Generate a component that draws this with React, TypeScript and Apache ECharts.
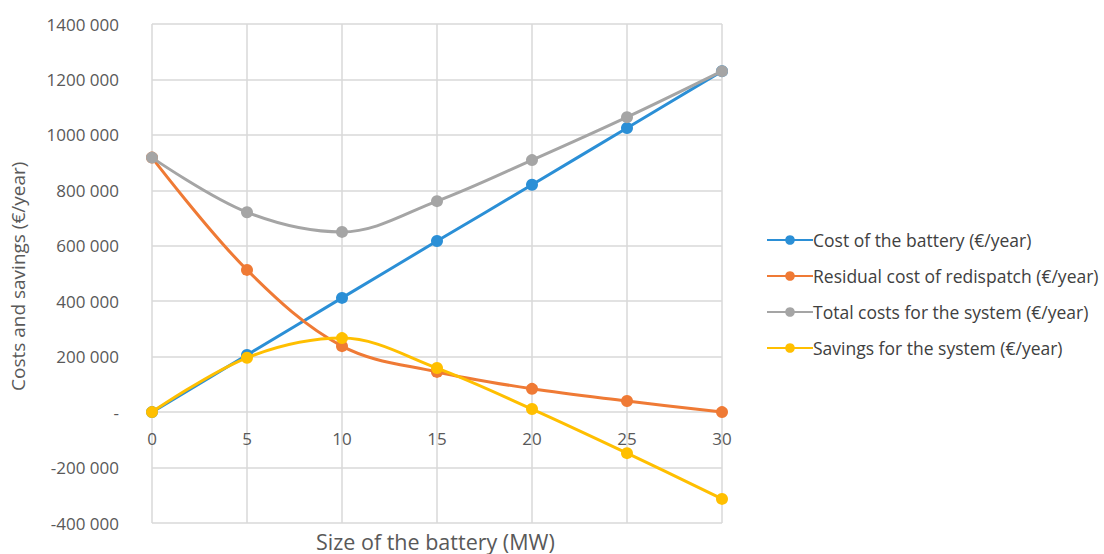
import React, { useEffect, useRef } from "react";
import * as echarts from "echarts";

const sizes = [0, 5, 10, 15, 20, 25, 30];
const batteryCost = [0, 206000, 412000, 617000, 820000, 1025000, 1230000];
const residualCost = [918000, 513000, 238000, 145000, 84000, 40000, 0];
const totalCost = [918000, 721000, 650000, 761000, 909000, 1064000, 1230000];
const savings = [0, 196000, 267000, 159000, 11000, -148000, -313000];

const seriesNames = [
  "Cost of the battery (€/year)",
  "Residual cost of redispatch (€/year)",
  "Total costs for the system (€/year)",
  "Savings for the system (€/year)",
];
const colors = ["#2b8fd6", "#ef7a35", "#a5a5a5", "#ffbf00"];
const xTitle = "Size of the battery (MW)";
const yTitle = "Costs and savings (€/year)";
const yMin = -400000;
const yMax = 1400000;

const fmt = (v: number) => {
  if (v === 0) return "-";
  const a = Math.abs(v);
  const th = Math.floor(a / 1000);
  return (v < 0 ? "-" : "") + th + " 000";
};

const FONT = "Open Sans";

export default function App() {
  const ref = useRef<HTMLDivElement>(null);
  useEffect(() => {
    const chart = echarts.init(ref.current!, null, { renderer: "svg" });
    const datasets = [batteryCost, residualCost, totalCost, savings];
    chart.setOption({
      animation: false,
      textStyle: { fontFamily: FONT },
      grid: { left: 152, right: 382, top: 24, bottom: 31, containLabel: false },
      xAxis: {
        type: "value",
        min: 0,
        max: 30,
        interval: 5,
        axisLine: { show: false },
        axisTick: { show: false },
        axisLabel: { fontSize: 17, color: "#595959", margin: 17, fontFamily: FONT },
        splitLine: { show: true, lineStyle: { color: "#d9d9d9", width: 1.5 } },
      },
      yAxis: {
        type: "value",
        min: yMin,
        max: yMax,
        interval: 200000,
        axisLine: { show: false },
        axisTick: { show: false },
        axisLabel: { fontSize: 17, color: "#595959", margin: 33, formatter: fmt, fontFamily: FONT },
        splitLine: { show: true, lineStyle: { color: "#d9d9d9", width: 1.5 } },
      },
      legend: {
        orient: "vertical",
        left: 761,
        top: 226,
        itemWidth: 46,
        itemHeight: 12,
        itemGap: 18,
        textStyle: { fontSize: 17.5, color: "#404040", fontFamily: FONT, padding: [0, 0, 0, -5] },
        data: seriesNames,
      },
      graphic: [
        {
          type: "text",
          left: 316,
          top: 530,
          style: { text: xTitle, fontSize: 21.5, fill: "#595959", fontFamily: FONT },
        },
        {
          type: "text",
          x: 8,
          y: 391,
          rotation: Math.PI / 2,
          style: { text: yTitle, fontSize: 19, fill: "#595959", fontFamily: FONT },
        },
      ],
      series: datasets.map((d, i) => ({
        name: seriesNames[i],
        type: "line",
        smooth: 0.35,
        symbol: "circle",
        symbolSize: 12,
        data: sizes.map((x, j) => [x, d[j]]),
        lineStyle: { color: colors[i], width: 3 },
        itemStyle: { color: colors[i] },
        z: 2 + i,
      })),
    });
    // Place the x axis (its labels) on the zero line of the y axis
    const zeroY = chart.convertToPixel({ yAxisIndex: 0 }, 0) as number;
    const bottomY = chart.convertToPixel({ yAxisIndex: 0 }, yMin) as number;
    chart.setOption({ xAxis: { offset: zeroY - bottomY } });
    return () => chart.dispose();
  }, []);
  return (
    <div
      ref={ref}
      style={{ position: "fixed", left: 0, top: 0, width: 1104, height: 554, background: "#fff" }}
    />
  );
}
